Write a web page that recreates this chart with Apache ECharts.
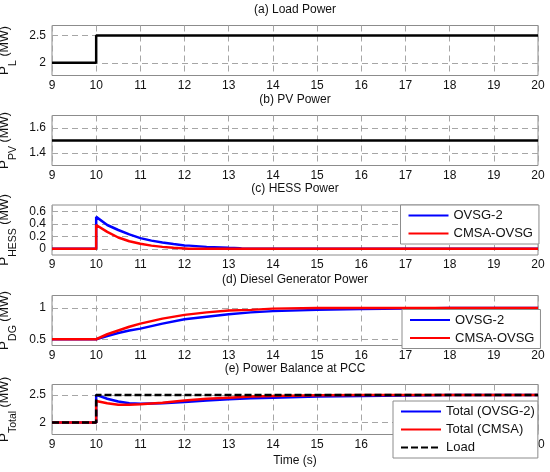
<!DOCTYPE html>
<html lang="en">
<head>
    <meta charset="UTF-8">
    <title>Power curves</title>
    <script src="https://cdn.jsdelivr.net/npm/echarts@6/dist/echarts.min.js"></script>
    <style>
        html, body { margin: 0; padding: 0; background: #fff; }
        #main { width: 550px; height: 472px; }
    </style>
</head>
<body>
<div id="main"></div>
<script>
    // x axis, time in s
    var xMin = 9;
    var xMax = 20;

    // (a) load power
    var tLoad = [9, 10, 10, 20];
    var pLoad = [2, 2, 2.5, 2.5];

    // (b) pv power
    var tPv = [9, 20];
    var pPv = [1.5, 1.5];

    // (c) HESS power
    var tHess = [9, 10, 10, 10.25, 10.5, 10.75, 11, 11.25, 11.5, 11.75, 12, 12.1, 12.5, 13, 13.25, 13.3, 20];
    var hessOvsg = [0, 0, 0.51, 0.38, 0.30, 0.23, 0.17, 0.13, 0.10, 0.075, 0.053, 0.05, 0.03, 0.015, 0.01, 0, 0];
    var hessCmsa = [0, 0, 0.38, 0.27, 0.18, 0.12, 0.08, 0.05, 0.03, 0.015, 0.005, 0, 0, 0, 0, 0, 0];

    // (d) diesel generator power
    var tDg = [9, 10, 10.25, 10.5, 10.75, 11, 11.5, 12, 12.5, 13, 13.5, 14, 15, 16, 17, 18, 20];
    var dgOvsg = [0.5, 0.5, 0.55, 0.60, 0.64, 0.67, 0.75, 0.82, 0.86, 0.90, 0.93, 0.95, 0.97, 0.985, 0.99, 1.0, 1.0];
    var dgCmsa = [0.5, 0.5, 0.58, 0.64, 0.70, 0.75, 0.83, 0.89, 0.93, 0.96, 0.97, 0.99, 1.0, 1.0, 1.0, 1.0, 1.0];

    // (e) power balance at PCC
    var tTotal = [9, 10, 10, 10.25, 10.5, 10.75, 11, 11.5, 12, 12.5, 13, 13.5, 14, 15, 16, 17, 18, 20];
    var totalOvsg = [2, 2, 2.5, 2.43, 2.38, 2.35, 2.34, 2.35, 2.37, 2.40, 2.42, 2.44, 2.45, 2.47, 2.48, 2.49, 2.5, 2.5];
    var totalCmsa = [2, 2, 2.39, 2.35, 2.32, 2.32, 2.33, 2.36, 2.40, 2.43, 2.45, 2.47, 2.48, 2.495, 2.5, 2.5, 2.5, 2.5];

    // y tick labels per panel
    var yTicksA = [2, 2.5];
    var yTicksB = [1.4, 1.6];
    var yTicksC = [0, 0.2, 0.4, 0.6];
    var yTicksD = [0.5, 1];
    var yTicksE = [2, 2.5];

    var panelTitles = ['(a) Load Power', '(b) PV Power', '(c) HESS Power', '(d) Diesel Generator Power', '(e) Power Balance at PCC'];

    var FONT = '"Liberation Sans", Arial, sans-serif';
    var gridTops = [25.5, 115.5, 205, 295.5, 384.5];
    var gridH = 50;

    function pairs(t, v) {
        var out = [];
        for (var i = 0; i < t.length; i++) {
            out.push([t[i], v[i]]);
        }
        return out;
    }

    function lineSeries(name, idx, t, v, color, dashed) {
        return {
            name: name, type: 'line', xAxisIndex: idx, yAxisIndex: idx,
            data: pairs(t, v), symbol: 'none', silent: true,
            lineStyle: { color: color, width: 2.5, type: dashed ? [7, 3] : 'solid' },
            itemStyle: { color: color }
        };
    }

    // label like P_L (MW), subscript pushed toward the axis
    function yName(sub) {
        return '{p|P}{s|' + sub + '}{u| (MW)}';
    }

    var grids = [], xAxes = [], yAxes = [], titles = [];
    var yLimits = [[1.77, 2.68], [1.3, 1.7], [-0.1, 0.7], [0.4, 1.2], [1.78, 2.69]];
    var yTicks = [yTicksA, yTicksB, yTicksC, yTicksD, yTicksE];
    var subs = ['L', 'PV', 'HESS', 'DG', 'Total'];

    for (var i = 0; i < 5; i++) {
        grids.push({
            left: 52, right: 12, top: gridTops[i], height: gridH,
            outerBoundsMode: 'none', containLabel: false,
            show: true, borderColor: '#8c8c8c', borderWidth: 1, backgroundColor: '#fff'
        });
        xAxes.push({
            type: 'value', gridIndex: i, min: xMin, max: xMax, interval: 1,
            axisLine: { show: false }, axisTick: { show: false },
            axisLabel: { fontSize: 12, color: '#111', margin: 4, fontFamily: FONT },
            splitLine: { show: true, lineStyle: { color: '#a6a6a6', width: 1, type: [6, 4] } },
            name: i === 4 ? 'Time (s)' : '', nameLocation: 'middle', nameGap: 20,
            nameTextStyle: { fontSize: 12, color: '#111', fontFamily: FONT }
        });
        yAxes.push({
            type: 'value', gridIndex: i, min: yLimits[i][0], max: yLimits[i][1],
            axisLine: { show: false },
            axisTick: { show: false, customValues: yTicks[i] },
            axisLabel: { customValues: yTicks[i], fontSize: 12, color: '#111', margin: 6, fontFamily: FONT },
            splitLine: { show: true, lineStyle: { color: '#a6a6a6', width: 1, type: [6, 4] } },
            name: yName(subs[i]), nameLocation: 'middle', nameRotate: 90, nameGap: 26,
            nameTextStyle: {
                color: '#111', fontFamily: FONT,
                rich: {
                    p: { fontSize: 13.5, lineHeight: 21, verticalAlign: 'top', fontFamily: FONT, color: '#111' },
                    s: { fontSize: 10.5, lineHeight: 11, verticalAlign: 'bottom', fontFamily: FONT, color: '#111' },
                    u: { fontSize: 12.5, lineHeight: 21, verticalAlign: 'top', padding: [1, 0, 0, 0], fontFamily: FONT, color: '#111' }
                }
            }
        });
        titles.push({
            type: 'text', x: 295, y: gridTops[i] - 16,
            style: { text: panelTitles[i], textAlign: 'center', textVerticalAlign: 'middle', fontSize: 12, fontFamily: FONT, fill: '#111' }
        });
    }

    function legendAt(left, top, names, padR) {
        return {
            data: names, orient: 'vertical', left: left, top: top,
            itemWidth: 40, itemHeight: 14, itemGap: 5,
            padding: [4, padR, 4, 7],
            backgroundColor: '#fff', borderColor: '#8c8c8c', borderWidth: 1, borderRadius: 0,
            selectedMode: false,
            // hide the marker dot, keep only the line sample
            itemStyle: { opacity: 0 },
            textStyle: { fontSize: 13, color: '#111', fontFamily: FONT }
        };
    }

    var myChart = echarts.init(document.getElementById('main'), null, { renderer: 'canvas' });
    var option = {
        animation: false,
        backgroundColor: '#fff',
        grid: grids,
        xAxis: xAxes,
        yAxis: yAxes,
        graphic: titles,
        legend: [
            legendAt(400.5, 205, ['OVSG-2', 'CMSA-OVSG'], 6),
            legendAt(402, 309.5, ['OVSG-2', 'CMSA-OVSG'], 6),
            legendAt(393, 401, ['Total (OVSG-2)', 'Total (CMSA)', 'Load'], 3)
        ],
        series: [
            lineSeries('PL', 0, tLoad, pLoad, '#000'),
            lineSeries('PPV', 1, tPv, pPv, '#000'),
            lineSeries('OVSG-2', 2, tHess, hessOvsg, '#0000ff'),
            lineSeries('CMSA-OVSG', 2, tHess, hessCmsa, '#ff0000'),
            lineSeries('OVSG-2', 3, tDg, dgOvsg, '#0000ff'),
            lineSeries('CMSA-OVSG', 3, tDg, dgCmsa, '#ff0000'),
            lineSeries('Total (OVSG-2)', 4, tTotal, totalOvsg, '#0000ff'),
            lineSeries('Total (CMSA)', 4, tTotal, totalCmsa, '#ff0000'),
            lineSeries('Load', 4, tLoad, pLoad, '#000', true)
        ]
    };
    myChart.setOption(option);
</script>
</body>
</html>
